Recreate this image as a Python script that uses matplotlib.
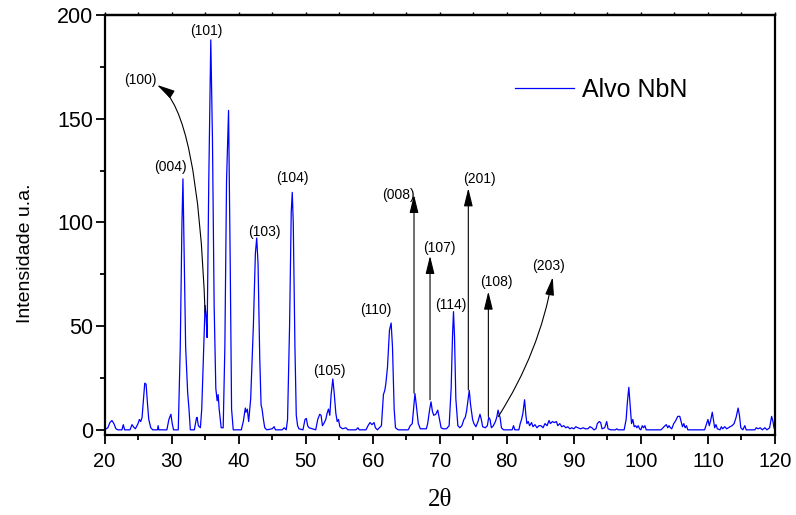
import matplotlib
matplotlib.use("Agg")
import matplotlib.pyplot as plt
from matplotlib.ticker import MultipleLocator

# difratograma do alvo de NbN
dois_theta = [
    20.0, 20.5, 20.8, 21.1, 21.4, 21.7, 22.0, 22.6, 22.8, 23.0,
    23.8, 24.1, 24.3, 24.6, 25.0, 25.2, 25.4, 25.6, 25.8, 26.0,
    26.2, 26.4, 26.6, 26.9, 27.2, 27.9, 28.0, 28.1, 29.3, 29.6,
    29.9, 30.1, 30.3, 31.0, 31.3, 31.55, 31.7, 31.85, 32.1, 32.4,
    32.6, 32.8, 33.4, 33.7, 33.8, 34.0, 34.3, 34.5, 34.8, 35.0,
    35.15, 35.3, 35.55, 35.85, 36.1, 36.35, 36.6, 36.8, 36.95, 37.1,
    37.4, 37.7, 37.95, 38.2, 38.5, 38.75, 38.95, 39.2, 40.4, 40.7,
    41.0, 41.1, 41.3, 41.5, 41.8, 42.2, 42.5, 42.7, 42.9, 43.15,
    43.35, 43.5, 43.7, 43.9, 44.2, 45.0, 45.3, 45.5, 46.5, 46.8,
    47.1, 47.3, 47.6, 47.85, 48.0, 48.15, 48.4, 48.6, 48.8, 49.0,
    49.6, 49.9, 50.1, 50.3, 50.5, 51.5, 51.8, 52.1, 52.3, 52.5,
    52.7, 53.0, 53.2, 53.4, 53.6, 53.8, 54.05, 54.25, 54.5, 54.7,
    54.9, 55.1, 55.5, 56.0, 56.3, 57.5, 57.8, 58.0, 59.0, 59.3,
    59.6, 59.9, 60.2, 60.4, 60.7, 61.3, 61.6, 61.8, 61.95, 62.2,
    62.5, 62.75, 62.95, 63.2, 63.4, 63.8, 65.3, 65.6, 65.9, 66.1,
    66.3, 66.5, 66.8, 67.1, 68.0, 68.2, 68.5, 68.7, 68.9, 69.1,
    69.4, 69.7, 69.9, 70.2, 70.5, 71.0, 71.4, 71.7, 71.9, 72.05,
    72.2, 72.4, 72.7, 73.0, 73.3, 73.6, 73.8, 74.0, 74.2, 74.4,
    74.6, 74.9, 75.1, 75.4, 75.7, 76.0, 76.2, 76.4, 76.8, 77.1,
    77.3, 77.5, 77.7, 78.0, 78.3, 78.5, 78.7, 78.9, 79.0, 79.2,
    79.5, 80.8, 81.0, 81.2, 81.8, 82.0, 82.2, 82.4, 82.65, 82.85,
    83.0, 83.2, 83.4, 83.7, 83.9, 84.2, 84.5, 84.8, 85.1, 85.4,
    85.7, 86.0, 86.3, 86.5, 86.8, 87.1, 87.4, 87.6, 87.9, 88.2,
    88.5, 88.8, 89.1, 89.4, 89.7, 90.0, 90.3, 90.6, 91.0, 91.4,
    91.7, 92.1, 92.4, 92.7, 93.0, 93.3, 93.5, 93.8, 94.0, 94.2,
    94.6, 94.9, 95.1, 95.5, 96.2, 96.4, 96.6, 97.5, 97.8, 98.0,
    98.2, 98.4, 98.6, 98.8, 99.0, 99.2, 99.4, 99.6, 99.8, 100.0,
    100.2, 100.4, 100.6, 100.8, 103.0, 103.3, 103.6, 103.8, 104.0, 104.2,
    104.4, 104.6, 104.9, 105.2, 105.5, 105.8, 106.0, 106.2, 106.4, 106.6,
    106.8, 107.0, 107.6, 109.5, 109.8, 110.0, 110.2, 110.4, 110.65, 110.85,
    111.0, 111.2, 111.4, 111.8, 112.0, 112.2, 112.5, 112.8, 113.3, 113.6,
    113.9, 114.2, 114.5, 114.7, 114.9, 115.2, 115.5, 115.7, 117.0, 117.2,
    117.5, 117.8, 118.1, 118.5, 118.8, 119.2, 119.5, 119.7, 119.85, 120.0,
]
intensidade = [
    0, 1, 3.5, 4.5, 3, 0.5, 0, 0, 2.5, 0,
    0, 2.5, 1.5, 0.5, 3, 5, 4, 6, 14, 22.5,
    22, 13, 5, 1, 0, 0, 2, 0, 0, 5,
    7.5, 3, 0, 0, 40, 100, 121, 90, 40, 18,
    10, 0, 0, 5.5, 6, 2, 1, 10, 40, 60,
    55, 44.5, 120, 188, 140, 60, 20, 14, 17, 10,
    1, 1, 40, 120, 154, 80, 10, 0, 0, 4,
    10.5, 8.5, 10, 4, 15, 50, 85, 92.5, 80, 35,
    12, 10, 5, 1, 0, 0.5, 1.5, 0, 0, 1,
    0, 5, 50, 105, 114.5, 100, 40, 7, 2, 0.5,
    0, 5, 5.5, 2, 1, 0, 5, 7.5, 7, 2,
    3, 5, 8, 10, 7, 17, 24.5, 18, 8, 4,
    5, 1.5, 0.5, 1, 0, 0, 1, 0, 0, 2,
    3.5, 2.5, 3.5, 1, 0, 2, 17, 19, 22, 30,
    48, 51.5, 40, 10, 1, 0, 0, 2, 3, 10,
    17.5, 12, 3, 0.5, 0.5, 3, 10, 13.5, 9, 7,
    7.5, 9.5, 6, 1, 0.5, 0.5, 2, 20, 45, 57,
    45, 15, 2, 1, 2, 5, 6, 9, 14, 19,
    12, 5, 3, 1.5, 4, 7.5, 5, 1.5, 1, 2,
    6, 5, 1, 2, 4, 6, 9.5, 7, 6, 1,
    0, 0, 2, 0, 0, 3, 5, 8, 14.5, 7,
    3, 4, 2, 3.5, 1.5, 2.5, 1, 2, 2, 1,
    3, 2, 4.5, 3, 4, 3.5, 4, 2, 3, 1.5,
    2, 1, 1.5, 0.5, 1, 0.5, 1.5, 1, 0.5, 1,
    0.5, 0.5, 1.5, 1, 0, 0.5, 3, 4, 3.5, 0.5,
    1, 4, 0.5, 0, 0, 0.5, 0, 0, 5, 14,
    20.5, 12, 3, 5, 1.5, 2, 1, 2, 0.5, 0,
    2, 1, 2, 0, 0, 1, 2, 2.5, 1, 2,
    1, 0.5, 3, 4.5, 6.5, 6.5, 4, 1.5, 3, 1,
    2, 0, 0, 0, 3, 5, 2, 4.5, 8.5, 4,
    1, 2.5, 0.5, 0, 1.5, 0.5, 1.5, 0.5, 1.5, 2,
    3, 6, 10.5, 7, 1, 0, 2, 0, 0, 1,
    0.5, 1, 0, 1, 0, 1, 6.5, 4, 1, 0,
]

# planos (hkl) indicados
planos = ["(101)", "(100)", "(004)", "(104)", "(103)", "(105)", "(110)",
          "(114)", "(008)", "(107)", "(201)", "(108)", "(203)"]

plt.rcParams["font.family"] = ["Liberation Sans", "DejaVu Sans"]

fig = plt.figure(figsize=(7.96, 5.15), dpi=100)
ax = fig.add_axes([0.1313, 0.1553, 0.8423, 0.8155])

ax.plot(dois_theta, intensidade, color="#0000ff", lw=0.9, label="Alvo NbN")

ax.set_xlim(20, 120)
ax.set_ylim(-2.5, 200)
ax.xaxis.set_major_locator(MultipleLocator(10))
ax.xaxis.set_minor_locator(MultipleLocator(5))
ax.yaxis.set_major_locator(MultipleLocator(50))
ax.yaxis.set_minor_locator(MultipleLocator(25))

for s in ax.spines.values():
    s.set_linewidth(1.6)
ax.tick_params(which="major", direction="out", length=6.5, width=1.3)
ax.tick_params(which="minor", direction="out", length=3.5, width=1.3)
ax.tick_params(axis="x", labelsize=14.5, pad=6)
ax.tick_params(axis="y", labelsize=15.5, pad=1.5)

# marcas curtas no eixo superior
topo = ax.secondary_xaxis("top")
topo.set_xticks(range(20, 121, 5))
topo.tick_params(direction="out", length=2, width=1, labeltop=False)
topo.spines["top"].set_linewidth(1.6)

ax.set_xlabel("2θ", fontsize=18, family="Liberation Serif", labelpad=13)
ax.set_ylabel("Intensidade u.a.", fontsize=14)
ax.yaxis.set_label_coords(-0.105, 0.433)

ax.legend(loc="center left", bbox_to_anchor=(0.612, 0.821), frameon=False,
          fontsize=18, handlelength=2.35, handletextpad=0.35,
          borderpad=0, borderaxespad=0)

# posicoes dos rotulos
pos_rotulos = [(35.16, 192.4), (25.4, 168.5), (29.87, 126.9), (47.96, 121.3),
               (43.79, 95.4), (53.53, 28.4), (60.39, 57.8), (71.58, 60.2),
               (63.8, 113.0), (70.0, 87.5), (75.9, 120.8), (78.4, 71.2),
               (86.29, 79.0)]
for txt, (x, y) in zip(planos, pos_rotulos):
    ax.text(x, y, txt, fontsize=10, ha="center", va="center")

seta = dict(arrowstyle="-|>,head_length=1.1,head_width=0.27", color="black",
            lw=0.8, shrinkA=0, shrinkB=0)

# setas retas
for x, y0, y1 in [(66.16, 17.7, 113.3), (68.55, 14.5, 83.9),
                  (74.26, 19.3, 116.5), (77.25, 6.4, 66.7)]:
    ax.annotate("", xy=(x, y1), xytext=(x, y0), arrowprops=seta)

# setas curvas
ax.annotate("", xy=(27.83, 166.3), xytext=(35.0, 56.4),
            arrowprops=dict(seta, connectionstyle="angle3,angleA=92,angleB=-32"))
ax.annotate("", xy=(86.85, 73.6), xytext=(78.73, 6.4),
            arrowprops=dict(seta, connectionstyle="arc3,rad=0.1"))

fig.savefig("out.png", dpi=100)
